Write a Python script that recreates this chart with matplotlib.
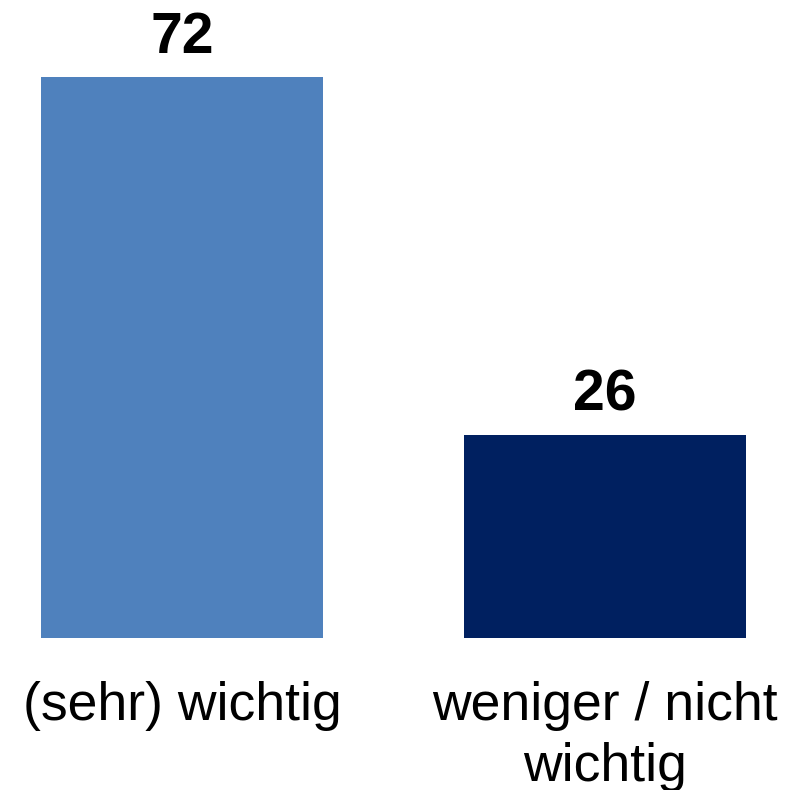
import matplotlib.pyplot as plt

categories = ["(sehr) wichtig", "weniger / nicht\nwichtig"]
values = [72, 26]
colors = ["#4F81BD", "#002060"]

plt.rcParams["font.family"] = ["Liberation Sans", "DejaVu Sans"]

fig = plt.figure(figsize=(8.02, 7.90), dpi=100)
# axes spans full width; baseline at 638 px from top
ax = fig.add_axes([0, 152 / 790, 1, 638 / 790])

x = [0, 1]
ax.bar(x, values, width=0.667, color=colors)

ax.set_xlim(-0.430, 1.466)
ax.set_ylim(0, 638 / 7.79)

for xi, v in zip(x, values):
    ax.annotate(
        str(v),
        (xi, v),
        xytext=(0, 9),
        textcoords="offset points",
        ha="center",
        va="bottom",
        fontsize=41,
        fontweight="bold",
    )

ax.set_xticks(x)
ax.set_xticklabels(categories, fontsize=38.5, linespacing=1.27)
ax.tick_params(axis="x", length=0, pad=31)
ax.set_yticks([])
for s in ax.spines.values():
    s.set_visible(False)

fig.savefig("out.png", dpi=100)
